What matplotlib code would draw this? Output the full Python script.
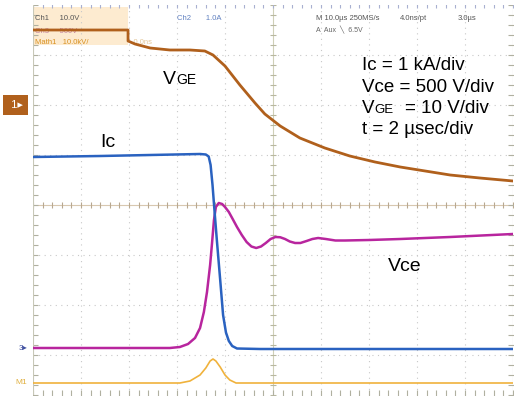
import matplotlib.pyplot as plt
import numpy as np

plt.rcParams["font.family"] = ["Liberation Sans", "DejaVu Sans"]

# traces in scope divisions (x: 0..10 from left edge, y: divisions from centre line)
vge_x = [0, 1.98, 1.98, 2.125, 2.44, 2.85, 3.27, 3.58, 3.75, 4.0, 4.31, 4.625, 4.83, 5.15,
         5.56, 6.08, 6.6, 7.125, 7.65, 8.17, 8.69, 9.31, 10]
vge_y = [3.5, 3.5, 3.28, 3.22, 3.14, 3.1, 3.1, 3.08, 3.0, 2.78, 2.4, 2.04, 1.82, 1.58,
         1.34, 1.14, 0.98, 0.86, 0.76, 0.68, 0.6, 0.54, 0.48]

ic_x = [0, 1.4, 2.44, 3.48, 3.6, 3.66, 3.7, 3.74, 3.78, 3.83, 3.9, 3.96, 4.02, 4.08, 4.15,
        4.25, 4.73, 10]
ic_y = [0.96, 0.98, 1.0, 1.02, 1.01, 0.97, 0.8, 0.4, -0.1, -0.7, -1.5, -2.2, -2.55, -2.72,
        -2.82, -2.87, -2.88, -2.88]

vce_x = [0, 2.85, 3.06, 3.23, 3.375, 3.48, 3.56, 3.625, 3.69, 3.73, 3.77, 3.81, 3.87, 3.94,
         4.0, 4.08, 4.16, 4.25, 4.35, 4.45, 4.55, 4.65, 4.75, 4.85, 4.95, 5.05, 5.15, 5.25,
         5.35, 5.46, 5.57, 5.7, 5.82, 5.94, 6.1, 6.3, 6.5, 7.0, 7.65, 8.69, 10]
vce_y = [-2.86, -2.86, -2.84, -2.78, -2.66, -2.46, -2.14, -1.74, -1.2, -0.76, -0.3, -0.04,
         0.04, 0.02, -0.04, -0.14, -0.28, -0.44, -0.6, -0.74, -0.83, -0.86, -0.83, -0.76,
         -0.68, -0.64, -0.645, -0.68, -0.73, -0.76, -0.76, -0.72, -0.68, -0.66, -0.68,
         -0.71, -0.71, -0.7, -0.68, -0.64, -0.58]

m1_x = [0, 3.06, 3.27, 3.48, 3.6, 3.69, 3.75, 3.81, 3.9, 4.0, 4.1, 4.23, 10]
m1_y = [-3.56, -3.56, -3.52, -3.4, -3.26, -3.12, -3.08, -3.12, -3.24, -3.4, -3.5, -3.56, -3.56]

scale_lines = ["Ic = 1 kA/div", "Vce = 500 V/div", "= 10 V/div", "t = 2 \u00b5sec/div"]

c_vge = "#b0601c"
c_ic = "#2a62c0"
c_vce = "#b8259e"
c_m1 = "#f0b23c"

fig = plt.figure(figsize=(5.16, 3.98), dpi=100)
ax = fig.add_axes([33 / 516, 3 / 398, 480 / 516, 390 / 398])
ax.set_xlim(0, 10)
ax.set_ylim(-3.8, 4.0)

# graticule
for gx in range(1, 10):
    if gx != 5:
        ax.axvline(gx, color="#c8c8c8", ls=(0, (1, 4)), lw=0.8)
for gy in [-3, -2, -1, 1, 2, 3]:
    ax.axhline(gy, color="#c8c8c8", ls=(0, (1, 4)), lw=0.8)
ax.axhline(0, color="#d8c8b0", lw=0.8)
ax.axvline(5, color="#d0d0b8", lw=0.8)
tx = np.arange(0, 10.01, 0.2)
ty = np.arange(-3.8, 4.01, 0.2)
ax.plot(tx, np.zeros_like(tx), ls="none", marker="|", ms=4, color="#b8a890", mew=0.8)
ax.plot(np.full_like(ty, 5), ty, ls="none", marker="_", ms=4, color="#b8b8a0", mew=0.8)
ax.plot(np.full_like(ty, 0.04), ty, ls="none", marker="_", ms=4, color="#b0b0a0", mew=0.8)
ax.plot(np.full_like(ty, 9.96), ty, ls="none", marker="_", ms=4, color="#b0b0a0", mew=0.8)
ax.plot(tx, np.full_like(tx, -3.76), ls="none", marker="|", ms=4, color="#b0b0a0", mew=0.8)
ax.plot(tx, np.full_like(tx, 3.98), ls="none", marker="|", ms=3, color="#a8b0d0", mew=0.8)

for s in ax.spines.values():
    s.set_visible(False)
ax.axvline(0, color="#c8c8b8", lw=0.8)
ax.axvline(10, color="#c8c8b8", lw=0.8)
ax.set_xticks([])
ax.set_yticks([])

# info box top-left
ax.add_patch(plt.Rectangle((0, 3.2), 1.98, 0.75, facecolor="#fdebd0", edgecolor="none", zorder=1))
ax.text(0.05, 3.72, "Ch1     10.0V", fontsize=5.5, color="#555555", va="center")
ax.text(0.05, 3.47, "Ch3     500V", fontsize=5.5, color="#a04080", va="center", alpha=0.6)
ax.text(0.05, 3.24, "Math1   10.0kV/", fontsize=5.5, color="#d89020", va="center")
ax.text(2.05, 3.24, "-0.0ns", fontsize=5.5, color="#d8b070", va="center", alpha=0.7)
ax.text(3.0, 3.72, "Ch2       1.0A", fontsize=5.5, color="#6080c0", va="center")
ax.text(5.9, 3.72, "M 10.0\u00b5s 250MS/s", fontsize=5.5, color="#555555", va="center")
ax.text(7.65, 3.72, "4.0ns/pt", fontsize=5.5, color="#555555", va="center")
ax.text(8.85, 3.72, "3.0\u00b5s", fontsize=5.5, color="#555555", va="center")
ax.text(5.9, 3.49, "A  Aux  \u2572  6.5V", fontsize=5, color="#666666", va="center")

# traces
ax.plot(m1_x, m1_y, color=c_m1, lw=1.2, zorder=3)
ax.plot(vce_x, vce_y, color=c_vce, lw=1.8, zorder=4)
ax.plot(ic_x, ic_y, color=c_ic, lw=1.8, zorder=5)
ax.plot(vge_x, vge_y, color=c_vge, lw=2.0, zorder=6)

# channel markers on the left
ax.text(-0.36, 2.0, " 1\u25b8", fontsize=8, color="white", va="center", ha="center",
        bbox=dict(boxstyle="square,pad=0.45", fc=c_vge, ec="none"), clip_on=False)
ax.text(-0.12, -2.86, "3\u25b8", fontsize=6, color="#4050a0", va="center", ha="right", clip_on=False)
ax.text(-0.12, -3.56, "M1", fontsize=6, color="#e0b040", va="center", ha="right", clip_on=False)

# trace labels
ax.text(2.71, 2.42, "V", fontsize=14, zorder=7)
ax.text(2.99, 2.42, "GE", fontsize=10, zorder=7)
ax.text(1.4, 1.16, "Ic", fontsize=14, zorder=7)
ax.text(7.4, -1.32, "Vce", fontsize=14, zorder=7)

ax.text(6.85, 2.7, scale_lines[0], fontsize=13.5, zorder=7)
ax.text(6.85, 2.26, scale_lines[1], fontsize=13.5, zorder=7)
ax.text(6.85, 1.84, "V", fontsize=13.5, zorder=7)
ax.text(7.12, 1.84, "GE", fontsize=9.5, zorder=7)
ax.text(7.75, 1.84, scale_lines[2], fontsize=13.5, zorder=7)
ax.text(6.85, 1.42, scale_lines[3], fontsize=13.5, zorder=7)

fig.savefig("out.png", dpi=100)
